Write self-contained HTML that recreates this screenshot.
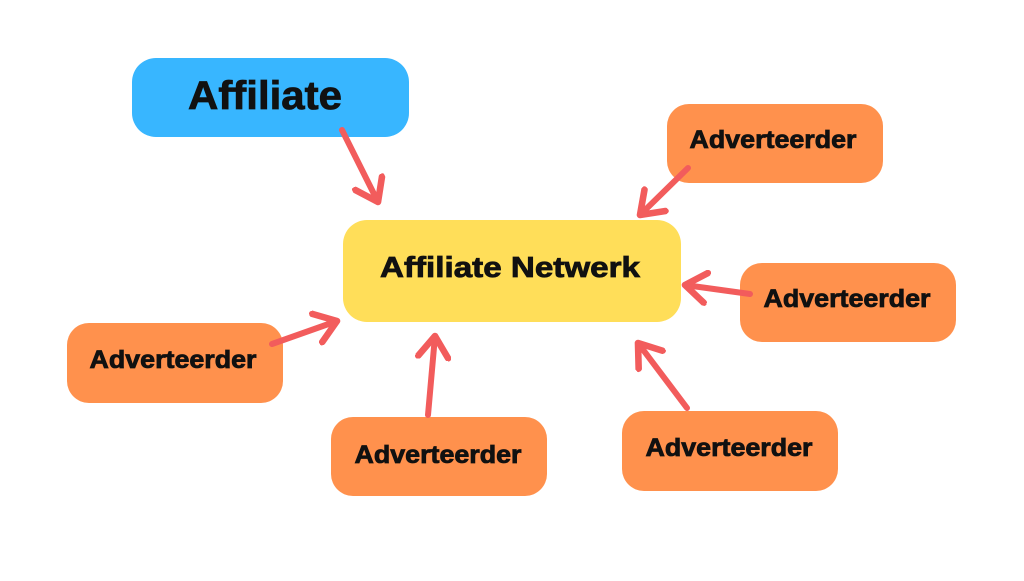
<!DOCTYPE html>
<html><head><style>body{margin:0;background:#fff}text{font-family:"Liberation Sans",sans-serif;font-weight:bold;fill:#111;stroke:#111;stroke-width:0.8;text-anchor:middle;dominant-baseline:central}</style></head>
<body>
<svg width="1024" height="576" viewBox="0 0 1024 576">
<defs><marker id="a" markerWidth="6" markerHeight="6" refX="4" refY="3" orient="auto" markerUnits="strokeWidth"><path d="M0.5,0.5 L4,3 L0.5,5.5" fill="none" stroke="#f25c5c" stroke-width="1.1" stroke-linecap="round" stroke-linejoin="round"/></marker></defs>
<rect x="132" y="58" width="277" height="79" rx="24" fill="#38b6ff"/>
<text x="265" y="96" font-size="40" textLength="154" lengthAdjust="spacingAndGlyphs">Affiliate</text>
<rect x="343" y="220" width="338" height="102" rx="24" fill="#ffde59"/>
<text x="510" y="268" font-size="29" textLength="260" lengthAdjust="spacingAndGlyphs">Affiliate Netwerk</text>
<g fill="#ff914d">
<rect x="667" y="104" width="216" height="79" rx="22"/>
<rect x="740" y="263" width="216" height="79" rx="22"/>
<rect x="67" y="323" width="216" height="80" rx="22"/>
<rect x="331" y="417" width="216" height="79" rx="22"/>
<rect x="622" y="411" width="216" height="80" rx="22"/>
</g>
<g font-size="25">
<text x="773" y="140" textLength="167" lengthAdjust="spacingAndGlyphs">Adverteerder</text>
<text x="847" y="299" textLength="167" lengthAdjust="spacingAndGlyphs">Adverteerder</text>
<text x="173" y="360" textLength="167" lengthAdjust="spacingAndGlyphs">Adverteerder</text>
<text x="438" y="455" textLength="167" lengthAdjust="spacingAndGlyphs">Adverteerder</text>
<text x="729" y="448" textLength="167" lengthAdjust="spacingAndGlyphs">Adverteerder</text>
</g>
<g stroke="#f25c5c" stroke-width="6" stroke-linecap="round" fill="none" marker-end="url(#a)">
<line x1="342" y1="130" x2="378" y2="202"/>
<line x1="688" y1="168" x2="640" y2="215"/>
<line x1="750" y1="294" x2="685" y2="285"/>
<line x1="272" y1="344" x2="337" y2="321"/>
<line x1="428" y1="415" x2="435" y2="336"/>
<line x1="687" y1="408" x2="638" y2="343"/>
</g>
</svg>
</body></html>
